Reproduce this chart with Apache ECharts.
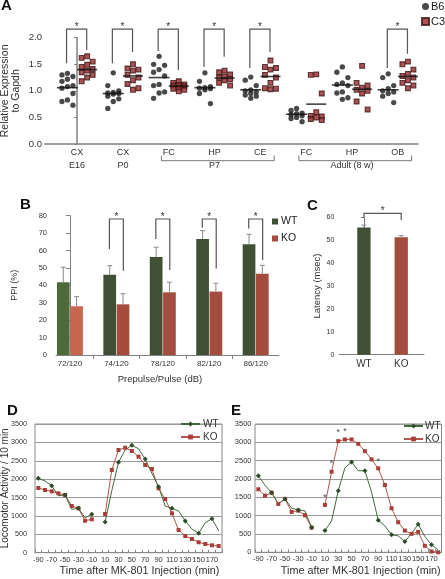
<!DOCTYPE html>
<html><head><meta charset="utf-8">
<script src="https://cdn.jsdelivr.net/npm/echarts@6/dist/echarts.min.js"></script>
<style>html,body{margin:0;padding:0;background:#fff}#c{width:445px;height:579px}</style>
</head><body><div id="c"></div>
<script>
// ---------- Panel A data ----------
const catsA = ['CX','CX','FC','HP','CE','FC','HP','OB'];
const groupNamesA = ['E16','P0','P7','Adult (8 w)'];
const groupStartA = [0,1,2,5];
const groupEndA = [0,1,4,7];
const groupBracketA = [0,0,1,1];
const b6Values = [
  [1.33,1.30,1.27,1.22,1.18,1.10,1.08,1.05,0.95,0.83,0.80,0.73],
  [1.34,1.10,1.00,0.97,0.96,0.95,0.94,0.90,0.85,0.80,0.67],
  [1.65,1.50,1.48,1.40,1.35,1.28,1.12,1.10,0.98,0.96,0.86],
  [1.34,1.18,1.08,1.06,1.05,1.04,1.02,0.95,0.76],
  [1.26,1.20,1.10,1.02,1.00,0.98,0.95,0.92,0.90,0.86],
  [0.67,0.63,0.58,0.57,0.55,0.53,0.50,0.48,0.42],
  [1.45,1.35,1.25,1.15,1.12,1.10,0.98,0.96,0.87,0.84],
  [1.32,1.25,1.10,1.04,1.00,0.98,0.95,0.90,0.78]
];
const c3Values = [
  [1.65,1.62,1.55,1.49,1.45,1.41,1.38,1.35,1.30,1.25,1.18],
  [1.50,1.42,1.40,1.38,1.30,1.25,1.20,1.13,1.05,1.02],
  [1.18,1.15,1.12,1.11,1.10,1.09,1.06,1.04,1.02,0.99],
  [1.38,1.35,1.31,1.27,1.25,1.22,1.20,1.15,1.10],
  [1.57,1.45,1.43,1.40,1.30,1.25,1.15,1.05,1.04,1.03],
  [1.31,1.30,0.95,0.60,0.53,0.52,0.50,0.47,0.45],
  [1.47,1.15,1.10,1.06,1.02,1.00,0.95,0.80,0.65],
  [1.55,1.50,1.40,1.32,1.28,1.25,1.20,1.15,1.10,1.05]
];
const b6Means = [1.06,0.95,1.25,1.06,1.02,0.56,1.11,1.02];
const c3Means = [1.40,1.28,1.09,1.24,1.27,0.75,1.03,1.27];
const sigCatsA = [0,1,2,3,4,7];
const sigLeftA = [1.52,1.52,1.75,1.45,1.43,1.43];
const sigRightA = [1.77,1.73,1.39,1.64,1.73,1.70];
const sigTopA = [2.16,2.16,2.16,2.16,2.16,2.16];

// ---------- Panel B data ----------
const catsB = ['72/120','74/120','78/120','82/120','86/120'];
const wtB = [41.8,46.1,56.3,66.6,63.6];
const wtErrB = [8.6,5.2,5.6,4.8,5.7];
const koB = [28.0,29.1,36.0,36.4,46.7];
const koErrB = [5.5,6.1,5.8,4.8,4.8];
const sigCatsB = [1,2,3,4];
const sigLeftB = [60.7,66.6,73.1,72.7];
const sigRightB = [48.4,48.8,49.7,54.6];
const sigTopB = [78.1,78.1,78.1,78.1];

// ---------- Panel C data ----------
const catsC = ['WT','KO'];
const latC = [55.5,51.3];
const latErrC = [1.1,0.7];
const sigLeftC = [59.8];
const sigRightC = [58.8];
const sigTopC = [61.7];

// ---------- Panels D / E data ----------
const timesDE = ['-90','-80','-70','-60','-50','-40','-30','-20','-10','0','10','20','30','40','50','60','70','80','90','100','110','120','130','140','150','160','170','180'];
const wtD = [2023,1950,1822,1550,1569,1180,1207,952,1044,null,835,1686,2458,2793,2920,2828,2548,2159,1795,1270,1207,1134,862,645,527,816,925,598];
const koD = [1759,1705,1669,1615,1569,1270,1207,870,908,null,1052,2249,2793,2855,2766,2611,2385,2276,1751,1460,1071,617,454,373,283,237,201,182];
const wtE = [2089,1827,1626,1319,1455,1202,1156,1129,674,null,593,857,1681,2306,2461,2225,2225,1637,876,720,476,449,294,511,767,430,204,68];
const koE = [1719,1545,1626,1319,1455,1101,1137,1011,674,null,1292,2197,3032,3078,3078,2959,2760,2534,2290,1836,1202,821,593,503,557,177,22,0];
const starTimesE = ['10','20','30','40','90'];
const starValsE = [1500,2430,3260,3290,2490];

// ---------- helpers ----------
const FONT = 'Liberation Sans, Arial, sans-serif';
const TXT = '#333';
const AX = '#808080';

function dots(vals, shift){
  const out = [];
  vals.forEach((arr,i)=>{
    arr.slice().sort((a,b)=>b-a).forEach((v,k)=>{
      const col = [0,-1,1][k%3];
      out.push([i + shift + col*0.12, v]);
    });
  });
  return out;
}
function bracketRender(params, api){
  const xl=api.value(0), yl=api.value(1), xr=api.value(2), yr=api.value(3), top=api.value(4);
  const a=api.coord([xl,yl]), b=api.coord([xl,top]), c=api.coord([xr,top]), d=api.coord([xr,yr]);
  return {type:'group', children:[
    {type:'polyline', shape:{points:[a,b,c,d]}, style:{stroke:'#555', lineWidth:1.2, fill:null}},
    {type:'text', x:(b[0]+c[0])/2, y:b[1]-2, style:{text:'*', fill:TXT, font:'10px '+FONT, align:'center', verticalAlign:'middle'}}
  ]};
}
function errRender(params, api){
  const x=api.value(0), v=api.value(1), e=api.value(2);
  const a=api.coord([x,v]), b=api.coord([x,v+e]);
  return {type:'group', children:[
    {type:'line', shape:{x1:a[0],y1:a[1],x2:b[0],y2:b[1]}, style:{stroke:'#8a8a8a', lineWidth:1}},
    {type:'line', shape:{x1:b[0]-2.5,y1:b[1],x2:b[0]+2.5,y2:b[1]}, style:{stroke:'#8a8a8a', lineWidth:1}}
  ]};
}
function groupRender(params, api){
  const s=api.value(0), e=api.value(1), br=api.value(2), k=api.value(3);
  const p0=api.coord([s-0.16,0]), p1=api.coord([e+0.3,0]), mid=api.coord([(s+e)/2,0]);
  const base=p0[1];
  const ch=[{type:'text', x:mid[0], y:base+22, style:{text:groupNamesA[k], fill:TXT, font:'9px '+FONT, align:'center', verticalAlign:'middle'}}];
  if(br){
    ch.push({type:'polyline', shape:{points:[[p0[0],base+11.5],[p0[0],base+16.7],[p1[0],base+16.7],[p1[0],base+11.5]]}, style:{stroke:'#777', lineWidth:1, fill:null}});
  }
  return {type:'group', children:ch};
}

const WT_G = '#3f5034', KO_R = '#a44c3e';
const plain = v => String(v);

const chart = echarts.init(document.getElementById('c'), null, {renderer:'canvas'});
const option = {
  animation:false,
  backgroundColor:'#fff',
  textStyle:{fontFamily:FONT},
  title:[
    {text:'A', left:1, top:-2, padding:0, textStyle:{fontSize:15, fontWeight:'bold', color:'#111', fontFamily:FONT}},
    {text:'B', left:20, top:197, padding:0, textStyle:{fontSize:15, fontWeight:'bold', color:'#111', fontFamily:FONT}},
    {text:'C', left:307, top:198, padding:0, textStyle:{fontSize:15, fontWeight:'bold', color:'#111', fontFamily:FONT}},
    {text:'D', left:7, top:403, padding:0, textStyle:{fontSize:15, fontWeight:'bold', color:'#111', fontFamily:FONT}},
    {text:'E', left:231, top:403, padding:0, textStyle:{fontSize:15, fontWeight:'bold', color:'#111', fontFamily:FONT}}
  ],
  legend:[
    {data:[{name:'B6',icon:'circle'},{name:'C3',icon:'rect'}], left:421, top:1, orient:'vertical', itemWidth:7, itemHeight:7, itemGap:4, padding:0, textStyle:{fontSize:11, color:'#222', fontFamily:FONT, padding:[0,0,0,-3]}},
    {data:[{name:'WT',icon:'rect'},{name:'KO',icon:'rect'}], left:272, top:216, orient:'vertical', itemWidth:6, itemHeight:6, itemGap:6, padding:0, textStyle:{fontSize:10.5, color:'#222', fontFamily:FONT, padding:[0,0,0,-2]}},
    {data:['WT ','KO '], left:180, top:419, orient:'vertical', itemWidth:19, itemHeight:6, itemGap:3, padding:0, textStyle:{fontSize:10, color:'#333', fontFamily:FONT, padding:[0,0,0,-2]}},
    {data:['WT ','KO '], left:403, top:421, orient:'vertical', itemWidth:19, itemHeight:6, itemGap:3, padding:0, textStyle:{fontSize:10, color:'#333', fontFamily:FONT, padding:[0,0,0,-3]}}
  ],
  grid:[
    {left:45, top:37.7, width:373, height:106.3, outerBoundsMode:'none'},
    {left:56, top:215.7, width:222.9, height:139.3, outerBoundsMode:'none'},
    {left:339.3, top:217.3, width:84.7, height:137.4, outerBoundsMode:'none'},
    {left:35, top:424, width:187, height:128.7, show:true, borderColor:'#888', borderWidth:1, outerBoundsMode:'none'},
    {left:255, top:424, width:186.5, height:128.3, show:true, borderColor:'#888', borderWidth:1, outerBoundsMode:'none'}
  ],
  xAxis:[
    {gridIndex:0, type:'value', min:-0.7, max:7.44, splitLine:{show:false},
      axisLine:{lineStyle:{color:AX, width:1.5}}, axisTick:{show:false},
      axisLabel:{customValues:[0,1,2,3,4,5,6,7], formatter:v=>catsA[Math.round(v)], fontSize:9, color:TXT, margin:4}},
    {gridIndex:1, type:'value', min:-0.3, max:4.5, splitLine:{show:false},
      axisLine:{lineStyle:{color:AX}}, axisTick:{show:true, customValues:[0.5,1.5,2.5,3.5], length:4, lineStyle:{color:AX}},
      axisLabel:{customValues:[0,1,2,3,4], formatter:v=>catsB[Math.round(v)], fontSize:8, color:TXT, margin:5},
      name:'Prepulse/Pulse (dB)', nameLocation:'middle', nameGap:19, nameMoveOverlap:false, nameTextStyle:{fontSize:9.5, color:TXT, padding:[0,15,0,0]}},
    {gridIndex:2, type:'value', min:-0.66, max:1.61, splitLine:{show:false},
      axisLine:{lineStyle:{color:AX}}, axisTick:{show:false},
      axisLabel:{customValues:[0,1], formatter:v=>catsC[Math.round(v)], fontSize:10, color:TXT, margin:5}},
    {gridIndex:3, type:'category', data:timesDE, boundaryGap:true,
      axisLine:{lineStyle:{color:'#888'}}, axisTick:{show:true, inside:true, interval:0, length:3, lineStyle:{color:'#888'}},
      axisLabel:{interval:1, fontSize:7.5, color:TXT, margin:3},
      name:'Time after MK-801 Injection (min)', nameLocation:'middle', nameGap:13, nameMoveOverlap:false, nameTextStyle:{fontSize:10.8, color:TXT, padding:[0,0,0,22]}},
    {gridIndex:4, type:'category', data:timesDE, boundaryGap:true,
      axisLine:{lineStyle:{color:'#888'}}, axisTick:{show:true, inside:true, interval:0, length:3, lineStyle:{color:'#888'}},
      axisLabel:{interval:1, fontSize:7.5, color:TXT, margin:3},
      name:'Time after MK-801 Injection (min)', nameLocation:'middle', nameGap:13, nameMoveOverlap:false, nameTextStyle:{fontSize:10.8, color:TXT, padding:[0,0,0,25]}}
  ],
  yAxis:[
    {gridIndex:0, type:'value', min:0, max:2, interval:0.5, splitLine:{show:false},
      axisLine:{show:true, lineStyle:{color:AX, width:1.5}}, axisTick:{show:true, length:3, lineStyle:{color:AX}},
      axisLabel:{formatter:v=>v.toFixed(1), fontSize:9.5, color:TXT, margin:3},
      name:'Relative Expression\nto Gapdh', nameLocation:'middle', nameGap:23, nameMoveOverlap:false, nameTextStyle:{fontSize:10.5, lineHeight:11, color:TXT}},
    {gridIndex:1, type:'value', min:0, max:80, interval:10, splitLine:{show:false},
      axisLine:{show:true, lineStyle:{color:AX}}, axisTick:{show:true, length:4, lineStyle:{color:AX}},
      axisLabel:{fontSize:7.5, color:TXT, margin:9},
      name:'PPI (%)', nameLocation:'middle', nameGap:37, nameMoveOverlap:false, nameTextStyle:{fontSize:9, color:TXT}},
    {gridIndex:2, type:'value', min:0, max:60, interval:10, splitLine:{show:false},
      axisLine:{show:true, lineStyle:{color:AX}}, axisTick:{show:true, length:3, lineStyle:{color:AX}},
      axisLabel:{fontSize:7, color:TXT, margin:5},
      name:'Latency (msec)', nameLocation:'middle', nameGap:17, nameMoveOverlap:false, nameTextStyle:{fontSize:9.5, color:TXT}},
    {gridIndex:3, type:'value', min:0, max:3500, interval:500,
      splitLine:{show:true, lineStyle:{color:'#9a9a9a', width:1}},
      axisLine:{show:false}, axisTick:{show:false},
      axisLabel:{formatter:plain, fontSize:7.2, color:TXT, margin:8},
      name:'Locomotor Activity / 10 min', nameLocation:'middle', nameGap:25, nameMoveOverlap:false, nameTextStyle:{fontSize:10, color:TXT}},
    {gridIndex:4, type:'value', min:0, max:3500, interval:500,
      splitLine:{show:true, lineStyle:{color:'#9a9a9a', width:1}},
      axisLine:{show:false}, axisTick:{show:false},
      axisLabel:{formatter:plain, fontSize:7.5, color:TXT, margin:3.5}}
  ],
  series:[
    // ---- A ----
    {type:'scatter', name:'B6', xAxisIndex:0, yAxisIndex:0, data:dots(b6Values,-0.21), symbol:'circle', symbolSize:5.3,
      itemStyle:{color:'#1c1c1c'}, z:3},
    {type:'scatter', name:'C3', xAxisIndex:0, yAxisIndex:0, data:dots(c3Values,0.22), symbol:'rect', symbolSize:4.8,
      itemStyle:{color:'#93282a', borderColor:'#3e1414', borderWidth:1.1}, z:3},
    {type:'scatter', xAxisIndex:0, yAxisIndex:0, data:b6Means.map((m,i)=>[i-0.21,m]), symbol:'rect', symbolSize:[21,1.6],
      itemStyle:{color:'#111'}, z:4, silent:true},
    {type:'scatter', xAxisIndex:0, yAxisIndex:0, data:c3Means.map((m,i)=>[i+0.22,m]), symbol:'rect', symbolSize:[20,1.6],
      itemStyle:{color:'#111'}, z:4, silent:true},
    {type:'custom', xAxisIndex:0, yAxisIndex:0, renderItem:bracketRender, z:5,
      data:sigCatsA.map((c,k)=>[c-0.23, sigLeftA[k], c+0.21, sigRightA[k], sigTopA[k]])},
    {type:'custom', xAxisIndex:0, yAxisIndex:0, renderItem:groupRender, z:5,
      data:groupNamesA.map((n,k)=>[groupStartA[k], groupEndA[k], groupBracketA[k], k])},
    // ---- B ----
    {type:'bar', name:'WT', xAxisIndex:1, yAxisIndex:1, barWidth:12.7, barGap:'-100%',
      data:wtB.map((v,i)=>i===0?{value:[i-0.143,v], itemStyle:{color:'#4e6a3b'}}:[i-0.143,v]),
      itemStyle:{color:WT_G}},
    {type:'bar', name:'KO', xAxisIndex:1, yAxisIndex:1, barWidth:12.7, barGap:'-100%',
      data:koB.map((v,i)=>i===0?{value:[i+0.143,v], itemStyle:{color:'#c8654e'}}:[i+0.143,v]),
      itemStyle:{color:KO_R}},
    {type:'custom', xAxisIndex:1, yAxisIndex:1, renderItem:errRender, z:4,
      data:wtB.map((v,i)=>[i-0.143, v, wtErrB[i]]).concat(koB.map((v,i)=>[i+0.143, v, koErrB[i]]))},
    {type:'custom', xAxisIndex:1, yAxisIndex:1, renderItem:bracketRender, z:5,
      data:sigCatsB.map((c,k)=>[c-0.15, sigLeftB[k], c+0.15, sigRightB[k], sigTopB[k]])},
    // ---- C ----
    {type:'bar', xAxisIndex:2, yAxisIndex:2, barWidth:13.3,
      data:latC.map((v,i)=>({value:[i,v], itemStyle:{color:i===0?WT_G:KO_R}}))},
    {type:'custom', xAxisIndex:2, yAxisIndex:2, renderItem:errRender, z:4,
      data:latC.map((v,i)=>[i, v, latErrC[i]])},
    {type:'custom', xAxisIndex:2, yAxisIndex:2, renderItem:bracketRender, z:5,
      data:sigTopC.map((t,k)=>[0, sigLeftC[k], 1, sigRightC[k], t])},
    // ---- D ----
    {type:'line', name:'KO ', xAxisIndex:3, yAxisIndex:3, data:koD, symbol:'rect', symbolSize:4, connectNulls:false,
      lineStyle:{color:'#b4554c', width:1}, itemStyle:{color:'#a83e38'}},
    {type:'line', name:'WT ', xAxisIndex:3, yAxisIndex:3, data:wtD, symbol:'diamond', symbolSize:5, connectNulls:false,
      lineStyle:{color:'#3f6b3a', width:1}, itemStyle:{color:'#2e4d2a'}},
    // ---- E ----
    {type:'line', name:'KO ', xAxisIndex:4, yAxisIndex:4, data:koE, symbol:'rect', symbolSize:4, connectNulls:false,
      lineStyle:{color:'#b4554c', width:1}, itemStyle:{color:'#a83e38'}},
    {type:'line', name:'WT ', xAxisIndex:4, yAxisIndex:4, data:wtE, symbol:'diamond', symbolSize:5, connectNulls:false,
      lineStyle:{color:'#3f6b3a', width:1}, itemStyle:{color:'#2e4d2a'}},
    {type:'scatter', xAxisIndex:4, yAxisIndex:4, data:starTimesE.map((t,k)=>[t, starValsE[k]]), symbolSize:1,
      itemStyle:{color:'rgba(0,0,0,0)'}, silent:true, z:6,
      label:{show:true, formatter:'*', position:'inside', fontSize:9, color:'#222'}}
  ]
};
chart.setOption(option);
</script></body></html>
